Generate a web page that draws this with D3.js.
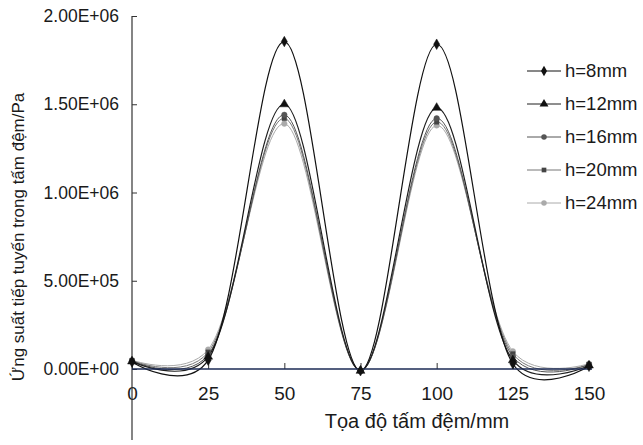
<!DOCTYPE html>
<html>
<head>
<meta charset="utf-8">
<script src="https://cdn.jsdelivr.net/npm/d3@7"></script>
<style>
html,body{margin:0;padding:0;background:#fff;}
svg{display:block;}
text{font-family:"Liberation Sans",Arial,sans-serif;fill:#1a1a1a;}
</style>
</head>
<body>
<svg id="chart" width="643" height="445"></svg>
<script>
// ---- data ----
const xValues = [0, 25, 50, 75, 100, 125, 150];
const seriesNames = ["h=8mm", "h=12mm", "h=16mm", "h=20mm", "h=24mm"];
const h8  = [4.0e4, 5.0e4, 1.855e6, -1.0e4, 1.84e6, 3.0e4, 1.5e4];
const h12 = [4.3e4, 7.0e4, 1.50e6, -1.0e4, 1.48e6, 5.0e4, 2.0e4];
const h16 = [4.5e4, 8.0e4, 1.44e6, -1.0e4, 1.42e6, 7.0e4, 2.5e4];
const h20 = [4.7e4, 9.5e4, 1.42e6, -1.0e4, 1.40e6, 8.5e4, 2.5e4];
const h24 = [5.0e4, 1.1e5, 1.39e6, -1.0e4, 1.38e6, 1.0e5, 3.0e4];
const xTickValues = [0, 25, 50, 75, 100, 125, 150];
const yTickValues = [0, 5e5, 1e6, 1.5e6, 2e6];
const yTickLabels = ["0.00E+00", "5.00E+05", "1.00E+06", "1.50E+06", "2.00E+06"];
const xTitle = "Tọa độ tấm đệm/mm";
const yTitle = "Ứng suất tiếp tuyến trong tấm đệm/Pa";

const allSeries = [h8, h12, h16, h20, h24];
const styles = [
  {stroke:"#111", width:1.2, marker:"diamond", fill:"#111", size:32},
  {stroke:"#1e1e1e", width:1.2, marker:"triangle", fill:"#111", size:34},
  {stroke:"#555", width:1.0, marker:"circle", fill:"#555", size:24},
  {stroke:"#777", width:1.0, marker:"square", fill:"#444", size:22},
  {stroke:"#aaa", width:1.0, marker:"circle", fill:"#aaa", size:24}
];

const svg = d3.select("#chart");
const x = d3.scaleLinear().domain([0,150]).range([132, 589]);
const y = d3.scaleLinear().domain([0,2e6]).range([369, 16]);

// axes
const yAxis = d3.axisLeft(y).tickValues(yTickValues)
  .tickFormat((d,i)=>yTickLabels[i]).tickSizeInner(-5).tickSizeOuter(0).tickPadding(13);
const gy = svg.append("g").attr("transform","translate(132,0)").call(yAxis);
gy.select(".domain").remove();
gy.selectAll("line").attr("stroke","#333");
gy.selectAll("text").attr("font-size","17.5px").attr("fill","#1a1a1a")
  .attr("font-family","'Liberation Sans',Arial,sans-serif");

const xAxis = d3.axisBottom(x).tickValues(xTickValues).tickSizeInner(-6).tickSizeOuter(0).tickPadding(18);
const gx = svg.append("g").attr("transform","translate(0,369)").call(xAxis);
gx.select(".domain").remove();
gx.selectAll("line").attr("stroke","#333");
gx.selectAll("text").attr("font-size","19px").attr("fill","#1a1a1a")
  .attr("font-family","'Liberation Sans',Arial,sans-serif");

svg.append("line").attr("x1",132).attr("x2",132).attr("y1",y(2e6)).attr("y2",440)
  .attr("stroke","#333").attr("stroke-width",1.2);

// lines
const line = d3.line().x((d,i)=>x(xValues[i])).y(d=>y(d)).curve(d3.curveCatmullRom.alpha(0.2));
const order = [4,3,2,1,0];
order.forEach(k=>{
  svg.append("path").attr("d", line(allSeries[k])).attr("fill","none")
    .attr("stroke", styles[k].stroke).attr("stroke-width", styles[k].width);
});

svg.append("line").attr("x1",132).attr("x2",592).attr("y1",369).attr("y2",369)
  .attr("stroke","#1b2a55").attr("stroke-width",1.3);

const symMap = {diamond:d3.symbolDiamond, triangle:d3.symbolTriangle, circle:d3.symbolCircle, square:d3.symbolSquare};
order.forEach(k=>{
  const st = styles[k];
  const sym = d3.symbol().type(symMap[st.marker]).size(st.size);
  svg.append("g").selectAll("path").data(allSeries[k]).join("path")
    .attr("d", sym)
    .attr("transform",(d,i)=>`translate(${x(xValues[i])},${y(d)})`)
    .attr("fill", st.fill).attr("stroke", st.fill).attr("stroke-width",0.5);
});

// legend
const legY0 = 71, legDy = 33;
seriesNames.forEach((name,k)=>{
  const st = styles[k];
  const g = svg.append("g").attr("transform",`translate(0,${legY0 + k*legDy})`);
  g.append("line").attr("x1",527).attr("x2",561).attr("y1",0).attr("y2",0)
    .attr("stroke",st.stroke).attr("stroke-width",1);
  g.append("path").attr("d", d3.symbol().type(symMap[st.marker]).size(st.size)())
    .attr("transform","translate(544,0)").attr("fill",st.fill);
  g.append("text").attr("x",565).attr("y",0).attr("dy","0.35em")
    .attr("font-size","18.5px").text(name);
});

// titles
svg.append("text").attr("x",417).attr("y",428).attr("text-anchor","middle")
  .attr("font-size","20px").text(xTitle);
svg.append("text").attr("transform","translate(24,237) rotate(-90)").attr("text-anchor","middle")
  .attr("font-size","17px").text(yTitle);
</script>
</body>
</html>
